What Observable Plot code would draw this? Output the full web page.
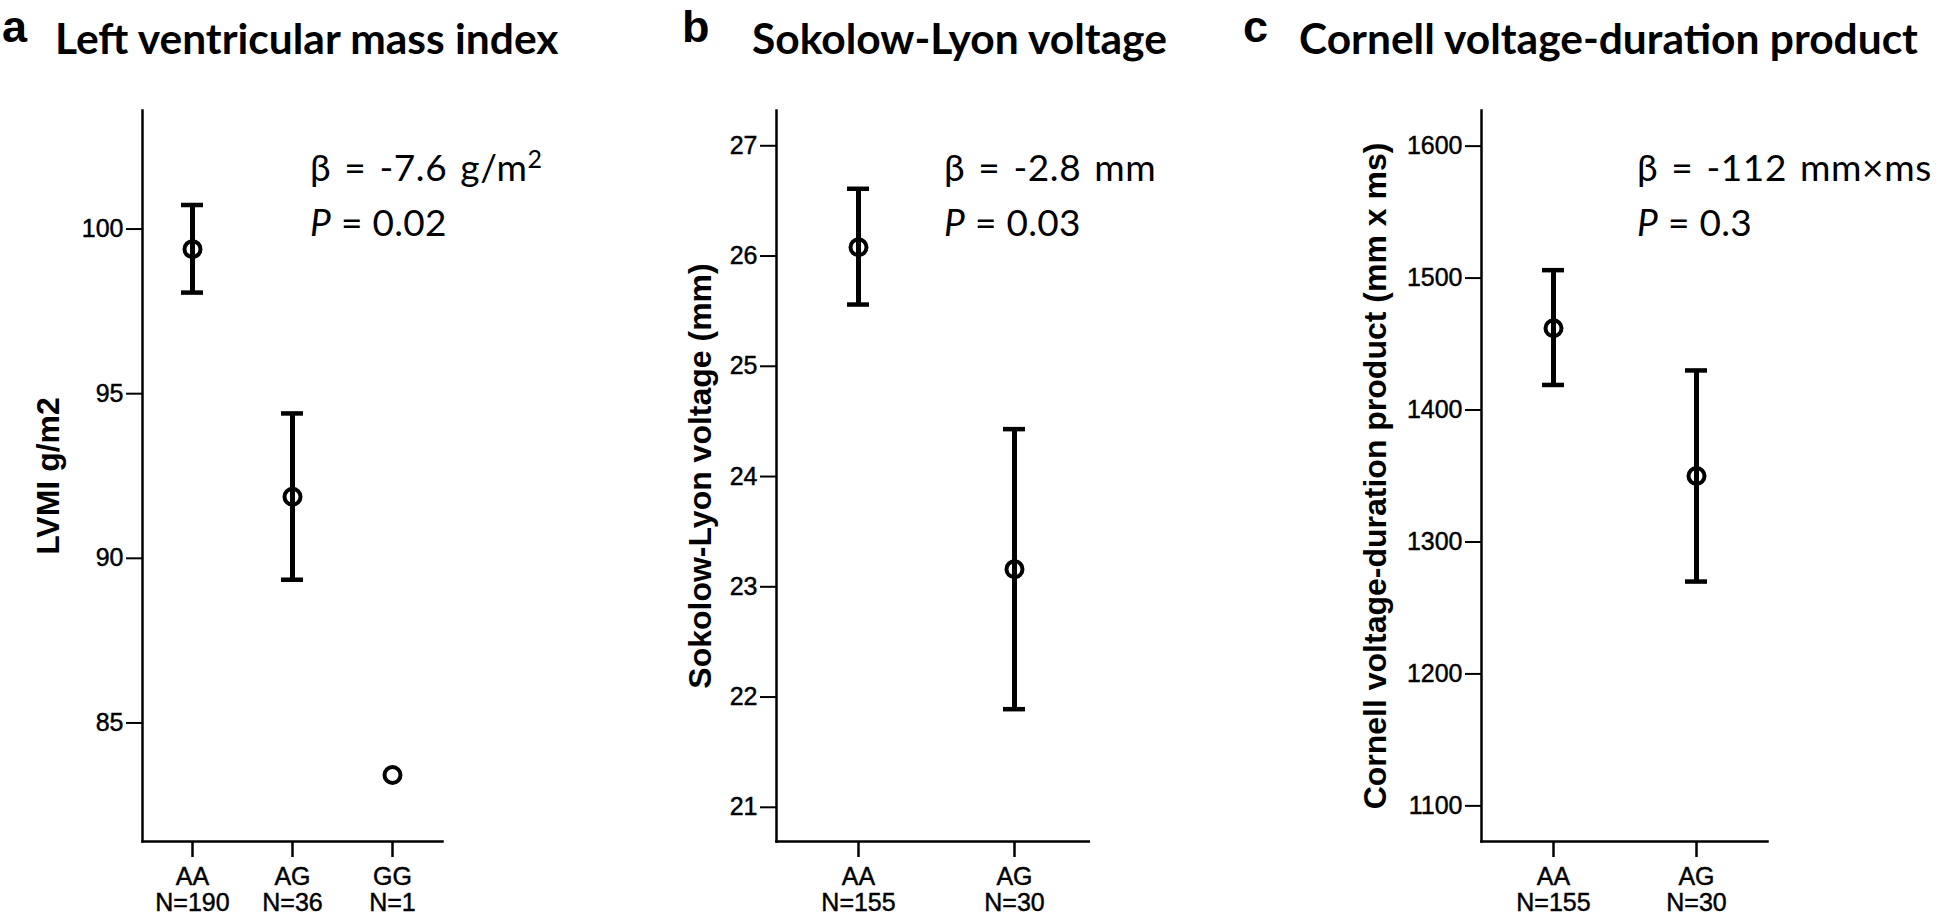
<!DOCTYPE html>
<html><head><meta charset="utf-8">
<script src="https://cdn.jsdelivr.net/npm/d3@7"></script>
<script src="https://cdn.jsdelivr.net/npm/@observablehq/plot@0.6"></script>
<style>
body{margin:0;background:#fff;}
#root{position:relative;width:1946px;height:915px;overflow:hidden;background:#fff;}
#root > svg{position:absolute;top:0;}
#overlay{position:absolute;left:0;top:0;pointer-events:none;}
g[aria-label$="tick label"]{stroke:#000;stroke-width:0.45px;}
</style></head><body><div id="root"></div><script>
// ---- data ----
const panelLetters = ["a", "b", "c"];
const titles = ["Left ventricular mass index", "Sokolow-Lyon voltage", "Cornell voltage-duration product"];
const yLabels = ["LVMI g/m2", "Sokolow-Lyon voltage (mm)", "Cornell voltage-duration product (mm x ms)"];
const betaTexts = ["β = -7.6 g/m²", "β = -2.8 mm", "β = -112 mm×ms"];
const pValues = ["0.02", "0.03", "0.3"];

const genotypesA = ["AA", "AG", "GG"];
const countsA = [190, 36, 1];
const meanA = [99.39, 91.87, 83.42];
const lowA = [98.07, 89.35, null];
const highA = [100.73, 94.40, null];
const yTicksA = [85, 90, 95, 100];
const yDomainA = [81.4, 103.6];

const genotypesB = ["AA", "AG"];
const countsB = [155, 30];
const meanB = [26.08, 23.16];
const lowB = [25.56, 21.89];
const highB = [26.61, 24.43];
const yTicksB = [21, 22, 23, 24, 25, 26, 27];
const yDomainB = [20.69, 27.32];

const genotypesC = ["AA", "AG"];
const countsC = [155, 30];
const meanC = [1462, 1350];
const lowC = [1419, 1270];
const highC = [1506, 1430];
const yTicksC = [1100, 1200, 1300, 1400, 1500, 1600];
const yDomainC = [1073, 1627];

// ---- layout ----
const layouts = [
  {left: 0,    marginLeft: 142, plotWidth: 300,   marginRight: 18, padding: 0.66,   align: 0.5,   labelDx: -94,  letterX: 2,    titleX: 55,   annX: 310},
  {left: 650,  marginLeft: 126, plotWidth: 312.3, marginRight: 20, padding: 0.5747, align: 0.527, labelDx: -76,  letterX: 682,  titleX: 752,  annX: 944},
  {left: 1330, marginLeft: 151, plotWidth: 286,   marginRight: 10, padding: 0.623,  align: 0.5,   labelDx: -106, letterX: 1243, titleX: 1299, annX: 1637}
];
const panels = [
  {cats: genotypesA, ns: countsA, mean: meanA, low: lowA, high: highA, ticks: yTicksA, domain: yDomainA},
  {cats: genotypesB, ns: countsB, mean: meanB, low: lowB, high: highB, ticks: yTicksB, domain: yDomainB},
  {cats: genotypesC, ns: countsC, mean: meanC, low: lowC, high: highC, ticks: yTicksC, domain: yDomainC}
];

const root = document.getElementById("root");
const FONT = "'Liberation Sans', Arial, sans-serif";

panels.forEach((p, k) => {
  const L = layouts[k];
  const rows = p.cats.map((g, i) => ({g, mean: p.mean[i], low: p.low[i], high: p.high[i]}));
  const bars = rows.filter(d => d.low != null);
  const capOpts = {x1: "g", x2: "g", strokeWidth: 4.5, insetLeft: -11, insetRight: -11};
  const chart = Plot.plot({
    width: L.marginLeft + L.plotWidth + L.marginRight,
    height: 915,
    marginTop: 110,
    marginBottom: 74,
    marginLeft: L.marginLeft,
    marginRight: L.marginRight,
    style: {fontFamily: FONT, fontSize: "25px", color: "#000", background: "transparent", overflow: "visible"},
    x: {type: "point", domain: p.cats, padding: p.padding, align: L.align},
    y: {domain: p.domain},
    marks: [
      Plot.axisY({ticks: p.ticks, tickFormat: d => String(d), tickSize: 16, tickPadding: 3, label: null, fontSize: 25, strokeWidth: 2}),
      Plot.axisX({tickSize: 16, tickPadding: 9, label: null, fontSize: 25, strokeWidth: 2.5, lineHeight: 1.04,
        tickFormat: g => g + "\nN=" + p.ns[p.cats.indexOf(g)]}),
      Plot.frame({anchor: "left", strokeWidth: 2.5}),
      Plot.frame({anchor: "bottom", strokeWidth: 2.5}),
      Plot.ruleX(bars, {x: "g", y1: "low", y2: "high", strokeWidth: 5}),
      Plot.ruleY(bars, {y: "low", ...capOpts}),
      Plot.ruleY(bars, {y: "high", ...capOpts}),
      Plot.dot(rows, {x: "g", y: "mean", r: 8, stroke: "#000", strokeWidth: 4, fill: "none"}),
      Plot.text([yLabels[k]], {frameAnchor: "left", text: d => d, rotate: -90, dx: L.labelDx,
        fontWeight: "bold", fontSize: 32, textAnchor: "middle", lineAnchor: "middle"})
    ]
  });
  chart.style.left = L.left + "px";
  root.appendChild(chart);
});

// ---- titles, panel letters, annotations ----
const ov = d3.select(root).append("svg").attr("id", "overlay").attr("width", 1946).attr("height", 915);
layouts.forEach((L, k) => {
  ov.append("text").attr("x", L.letterX).attr("y", 42)
    .attr("font-family", FONT).attr("font-weight", "bold").attr("font-size", 45).text(panelLetters[k]);
  ov.append("text").attr("x", L.titleX).attr("y", 54)
    .attr("font-family", "Lato, 'Open Sans', sans-serif").attr("font-weight", "bold").attr("font-size", 42.5).text(titles[k]);
  const b = ov.append("text").attr("x", L.annX).attr("y", 181)
    .attr("font-family", "Lato, sans-serif").attr("font-size", 37)
    .attr("letter-spacing", 0.6).attr("word-spacing", 3);
  const parts = betaTexts[k].split("²");
  b.append("tspan").text(parts[0]);
  if (parts.length > 1) {
    b.append("tspan").attr("dy", -13).attr("font-size", 25).text("2");
  }
  const t = ov.append("text").attr("x", L.annX).attr("y", 236)
    .attr("font-family", "Lato, sans-serif").attr("font-size", 37).attr("letter-spacing", 0.3);
  t.append("tspan").attr("font-style", "italic").text("P");
  t.append("tspan").text(" = " + pValues[k]);
});
</script></body></html>
